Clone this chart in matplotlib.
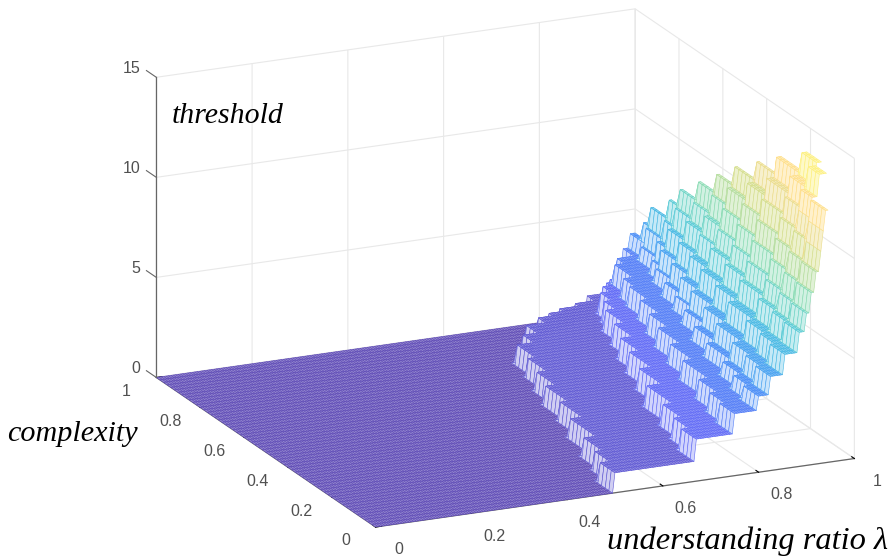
import numpy as np
import matplotlib
matplotlib.use('Agg')
import matplotlib.pyplot as plt
from matplotlib.colors import LinearSegmentedColormap
from matplotlib.ticker import NullFormatter
from mpl_toolkits.mplot3d import proj3d
from mpl_toolkits.mplot3d.art3d import Poly3DCollection

# complexity band edges, read from the staircase on the far ridge
complexity_edges = [0,.07,.142,.22,.35,.45,.55,.633,.71,.79,.85,.885,.917,.94,.963,.98,1]
# height of each staircase level
level_heights = [0,1,2.1,3.1,3.8,4.7,5.7,6.7,7.6,8.6,9.6,10.6,11.6,12.6,13.7]
# understanding ratio where the surface ends in each band
band_end = [.945,.98,1,1,1,1,1,1,1,1,1,1,1,1,1,1]
# understanding ratio at which each level starts, per complexity band
level_starts = [
 [.498,.669,.75,.799,.823,.853,.881,.898,.908,.918,.926,.933,.939],
 [.516,.681,.76,.809,.833,.861,.888,.904,.915,.925,.934,.942,.95,.965],
 [.535,.696,.772,.822,.844,.871,.897,.913,.923,.934,.943,.953,.964,.987],
 [.56,.719,.791,.841,.862,.887,.911,.926,.937,.948,.958,.97,.986],
 [.583,.747,.814,.865,.883,.906,.927,.941,.953,.964,.975,.991],
 [.60,.772,.835,.886,.902,.922,.943,.956,.967,.979,.992],
 [.62,.795,.854,.906,.92,.938,.957,.969,.981,.993],
 [.638,.816,.872,.924,.936,.953,.97,.981,.994],
 [.655,.838,.89,.943,.953,.968,.983,.994],
 [.69,.858,.90,.959,.969,.981,.995],
 [.72,.875,.92,.975,.983,.994],
 [.76,.895,.92,.975,.983,.994],
 [.79,.91,.94,.989,.995],
 [.82,.925,.94,.989,.995],
 [.86,.945,.975,.99],
 [.90,.96,.975,.99],
]
x_ticks = [0,0.2,0.4,0.6,0.8,1]
y_ticks = [0,0.2,0.4,0.6,0.8,1]
z_ticks = [0,5,10,15]
x_labels = ['0','0.2','0.4','0.6','0.8','1']
y_labels = ['0','0.2','0.4','0.6','0.8','1']
z_labels = ['0','5','10','15']

parula = LinearSegmentedColormap.from_list('parula',[
 (0.2422,0.1504,0.6603),(0.2810,0.3228,0.9579),(0.1786,0.5289,0.9682),
 (0.0689,0.6948,0.8394),(0.2161,0.7843,0.5923),(0.6720,0.7793,0.2227),
 (0.9970,0.7659,0.2199),(0.9769,0.9839,0.0805)])

xs = np.arange(0,201)/200
ys = np.arange(0,61)/60
Z = np.zeros((len(ys),len(xs)))
for r,y in enumerate(ys):
    band = min(np.searchsorted(complexity_edges,y,side='right')-1,len(level_starts)-1)
    starts = level_starts[band]
    for c,x in enumerate(xs):
        Z[r,c] = np.nan if x>band_end[band]+1e-9 else level_heights[np.searchsorted(starts,x,side='right')]

quads=[];vals=[];riser=[]
for r in range(len(ys)-1):
    for c in range(len(xs)-1):
        zz=[Z[r,c],Z[r,c+1],Z[r+1,c+1],Z[r+1,c]]
        if np.any(np.isnan(zz)): continue
        quads.append([(xs[c],ys[r],zz[0]),(xs[c+1],ys[r],zz[1]),(xs[c+1],ys[r+1],zz[2]),(xs[c],ys[r+1],zz[3])])
        vals.append(max(zz))
        riser.append(max(zz)>min(zz))
vals=np.array(vals);riser=np.array(riser)

fig=plt.figure(figsize=(8.96,5.57),dpi=100,facecolor='white')
ax=fig.add_axes([0.0556,0.0055,1,1],projection='3d',computed_zorder=False)
ax.set_proj_type('ortho')
ax.view_init(elev=18.2,azim=-114.6)
ax.set_box_aspect((1,1,0.6),zoom=1.41)
ax.set_xlim(0,1,view_margin=0);ax.set_ylim(0,1,view_margin=0);ax.set_zlim(0,15,view_margin=0)
ax.set_xticks(x_ticks);ax.set_yticks(y_ticks);ax.set_zticks(z_ticks)
for a in (ax.xaxis,ax.yaxis,ax.zaxis):
    a.set_major_formatter(NullFormatter())
    a.set_pane_color((1,1,1,0))
    a.pane.set_edgecolor('#e6e6e6')
    a.line.set_color('#666666')
    a.line.set_linewidth(0.9)
    a._axinfo['grid']['color']='#e8e8e8'
    a._axinfo['grid']['linewidth']=0.8
    a._axinfo['tick']['inward_factor']=0.0
    a._axinfo['tick']['outward_factor']=0.15
    a._axinfo['tick']['linewidth']={True:0.8,False:0.5}
    a._axinfo['tick']['color']='#666666'
ax.zaxis._axinfo['tick']['outward_factor']=0.0

for v in z_ticks:
    ax.plot([0,0],[1,1.045],[v,v],color='#666666',lw=0.8,clip_on=False)

col=parula(np.clip(vals/14.5,0,1))
tread=np.interp(vals,[0,4,8],[0.45,0.35,0.68])
tint=np.where(riser,0.75,tread)[:,None]
face=col.copy()
face[:,:3]=col[:,:3]*(1-tint)+tint
edge=col.copy()
edge_t=np.interp(vals,[0,4,10],[0.15,0.1,0.4])[:,None]
edge[:,:3]=col[:,:3]*(1-edge_t)+edge_t
pc=Poly3DCollection(quads,facecolors=face,edgecolors=edge,linewidths=0.4,zsort='average')
pc.set_clip_on(False)
ax.add_collection3d(pc)

# tick labels: placed through the axes' own projection
fig.canvas.draw()
M=ax.get_proj()
def label(x,y,z,s,ha):
    px,py,_=proj3d.proj_transform(x,y,z,M)
    ax.text2D(px,py,s,transform=ax.transData,ha=ha,va='center',clip_on=False,
              family='Liberation Sans',fontsize=11.5,color='#505050')
for v,s in zip(x_ticks,x_labels):
    label(v-.018,-.144,0,s,'center')
for v,s in zip(y_ticks,y_labels):
    label(-.087,v-.0535,0,s,'center')
for v,s in zip(z_ticks,z_labels):
    label(0,1.073,v-.1,s,'right')

serif=dict(family='Liberation Serif',style='italic',color='black')
fig.text(172/896,1-116/557,'threshold',va='center',ha='left',fontsize=21.5,**serif)
fig.text(7/896,1-434/557,'complexity',va='center',ha='left',fontsize=21.7,**serif)
fig.text(607/896,1-541/557,'understanding ratio λ',va='center',ha='left',fontsize=23.4,**serif)
fig.savefig('out.png',dpi=100)
